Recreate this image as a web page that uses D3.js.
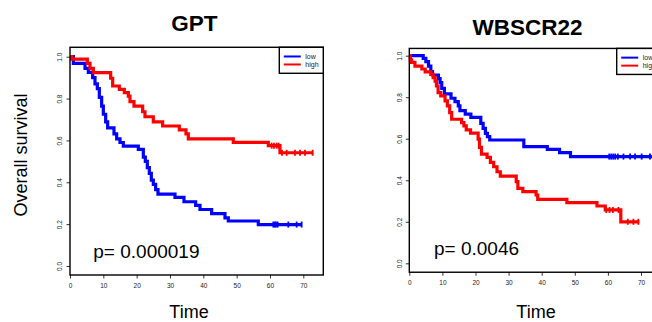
<!DOCTYPE html>
<html>
<head>
<meta charset="utf-8">
<script src="https://cdn.jsdelivr.net/npm/d3@7/dist/d3.min.js"></script>
<style>
  body { margin: 0; background: #fff; }
  text { font-family: "Liberation Sans", Arial, sans-serif; }
</style>
</head>
<body>
<div id="chart"></div>
<script>
// tick labels and groups
var xTicks = [0, 10, 20, 30, 40, 50, 60, 70];
var yTicks = [0, 0.2, 0.4, 0.6, 0.8, 1.0];
var groups = ["low", "high"];
var colors = ["#0000ff", "#ff0000"];

// GPT, low expression
var gptLowTime = [0, 1, 4.5, 5.5, 6.8, 7.5, 8.2, 8.8, 9.5, 10, 10.7, 11.3, 13.2, 14, 15, 16, 20.5, 22, 22.6, 23.2, 23.8, 24.4, 25, 25.7, 26.4, 31.5, 34.2, 37.7, 39, 42.5, 46.5, 47.5, 56.5];
var gptLowSurv = [1, 0.968, 0.944, 0.925, 0.9, 0.87, 0.847, 0.806, 0.764, 0.725, 0.689, 0.66, 0.631, 0.607, 0.59, 0.573, 0.557, 0.52, 0.5, 0.47, 0.443, 0.41, 0.39, 0.365, 0.343, 0.328, 0.307, 0.29, 0.27, 0.25, 0.23, 0.215, 0.198];
var gptLowEnd = 69.5;
var gptLowCensor = [61, 61.4, 61.8, 62.3, 65.5, 68, 69.5];

// GPT, high expression
var gptHighTime = [0, 0.5, 5.2, 6, 7, 12.2, 12.8, 14.8, 16.3, 17.5, 18, 19.2, 21.8, 22.5, 25, 27.8, 32.8, 34.8, 35.5, 49, 59.5, 63];
var gptHighSurv = [1, 0.988, 0.968, 0.944, 0.924, 0.897, 0.86, 0.844, 0.828, 0.812, 0.785, 0.764, 0.737, 0.713, 0.689, 0.669, 0.65, 0.631, 0.607, 0.591, 0.575, 0.541];
var gptHighEnd = 73;
var gptHighCensor = [60.5, 61.2, 62, 62.6, 63.6, 65, 67.5, 69, 70.5, 72.8];

// WBSCR22, low expression
var wbLowTime = [0, 4.2, 5, 5.8, 6.5, 7, 8.8, 9.3, 9.8, 10.6, 12.6, 13.8, 14.8, 15.3, 16.9, 18.6, 21.6, 22.3, 23, 23.6, 24.3, 34.6, 41.7, 45.4, 48.7];
var wbLowSurv = [1, 0.987, 0.971, 0.95, 0.923, 0.907, 0.89, 0.87, 0.843, 0.816, 0.795, 0.779, 0.758, 0.735, 0.719, 0.703, 0.674, 0.65, 0.626, 0.61, 0.594, 0.562, 0.549, 0.533, 0.514];
var wbLowEnd = 74;
var wbLowCensor = [60.4, 61, 61.6, 62.2, 63, 64.7, 66.7, 68.2, 70.2, 72.7];

// WBSCR22, high expression
var wbHighTime = [0, 0.3, 0.7, 1.7, 3.8, 4.8, 6.5, 7.2, 7.8, 8.2, 8.7, 9.5, 10.8, 11.5, 12.2, 12.8, 15.8, 16.5, 17.2, 18.5, 20.8, 21.2, 21.8, 23.5, 24.5, 25.5, 26.5, 27.5, 32.3, 32.8, 34.3, 38.3, 38.8, 47.6, 56.7, 59.2, 63.9];
var wbHighSurv = [1, 0.98, 0.968, 0.95, 0.936, 0.922, 0.91, 0.894, 0.878, 0.854, 0.822, 0.806, 0.782, 0.758, 0.726, 0.694, 0.678, 0.662, 0.643, 0.627, 0.598, 0.558, 0.526, 0.51, 0.486, 0.465, 0.441, 0.42, 0.393, 0.361, 0.345, 0.329, 0.308, 0.292, 0.276, 0.257, 0.2];
var wbHighEnd = 69.5;
var wbHighCensor = [59.5, 60.5, 61.5, 63.2, 66, 67.7, 69.2];

// panel layout
var panels = [
  { title: "GPT", pval: "p= 0.000019",
    xr: [70, 303.3], yr: [266, 56.7], xmax: 76, ymin: -0.043, ymax: 1.045,
    titleX: 194.5, titleY: 30.7, timeX: 189, legendX: 279.3, pX: 93.3, pY: 258.3,
    series: [[gptLowTime, gptLowSurv, gptLowEnd, gptLowCensor],
             [gptHighTime, gptHighSurv, gptHighEnd, gptHighCensor]] },
  { title: "WBSCR22", pval: "p= 0.0046",
    xr: [409.3, 641], yr: [263.3, 55.7], xmax: 76, ymin: -0.043, ymax: 1.035,
    titleX: 527.5, titleY: 35, timeX: 536, legendX: 616.7, pX: 434, pY: 255,
    series: [[wbLowTime, wbLowSurv, wbLowEnd, wbLowCensor],
             [wbHighTime, wbHighSurv, wbHighEnd, wbHighCensor]] }
];

var svg = d3.select("#chart")
  .append("svg")
    .attr("width", 652)
    .attr("height", 322);

// y axis label (shared, left)
svg.append("text")
  .attr("transform", "translate(26.7,155) rotate(-90)")
  .attr("text-anchor", "middle")
  .attr("font-size", "18px")
  .text("Overall survival");

panels.forEach(function(p) {
  var x = d3.scaleLinear().domain([0, 70]).range(p.xr);
  var y = d3.scaleLinear().domain([0, 1]).range(p.yr);
  var g = svg.append("g");

  var bx0 = x(0), bx1 = x(p.xmax), by0 = y(p.ymax), by1 = y(p.ymin);

  // x axis
  var xa = g.append("g")
    .attr("transform", "translate(0," + by1 + ")")
    .call(d3.axisBottom(x).tickValues(xTicks).tickSize(3.5).tickPadding(5)
      .tickFormat(d3.format("d")));
  // y axis
  var ya = g.append("g")
    .attr("transform", "translate(" + bx0 + ",0)")
    .call(d3.axisLeft(y).tickValues(yTicks).tickSize(3.5).tickFormat(d3.format(".1f")));
  [xa, ya].forEach(function(a) {
    a.select(".domain").remove();
    a.selectAll("line").attr("stroke", "#000").attr("stroke-width", 0.8);
    a.selectAll("text").attr("font-size", "6.5px").attr("fill", "#222")
      .attr("font-family", "'Liberation Sans', Arial, sans-serif");
  });
  ya.selectAll(".tick text")
    .attr("x", null).attr("dy", null)
    .attr("text-anchor", "middle")
    .attr("transform", "translate(-10,0) rotate(-90)")
    .attr("y", 2.3);

  // curves
  var line = d3.line()
    .x(function(d) { return x(d[0]); })
    .y(function(d) { return y(d[1]); })
    .curve(d3.curveStepAfter);

  p.series.forEach(function(s, i) {
    var pts = s[0].map(function(t, j) { return [t, s[1][j]]; });
    pts.push([s[2], s[1][s[1].length - 1]]);
    g.append("path")
      .datum(pts)
      .attr("fill", "none")
      .attr("stroke", colors[i])
      .attr("stroke-width", 3.2)
      .attr("d", line);

    // censor marks
    var survAt = function(t) {
      var v = s[1][0];
      for (var k = 0; k < s[0].length; k++) if (s[0][k] <= t) v = s[1][k];
      return v;
    };
    g.selectAll(null)
      .data(s[3])
      .enter().append("line")
        .attr("x1", function(d) { return x(d); })
        .attr("x2", function(d) { return x(d); })
        .attr("y1", function(d) { return y(survAt(d)) - 3; })
        .attr("y2", function(d) { return y(survAt(d)) + 3; })
        .attr("stroke", colors[i])
        .attr("stroke-width", 1.8);
  });

  // box
  g.append("rect")
    .attr("x", bx0).attr("y", by0)
    .attr("width", bx1 - bx0).attr("height", by1 - by0)
    .attr("fill", "none")
    .attr("stroke", "#000")
    .attr("stroke-width", 1.4);

  // legend
  var lg = g.append("g").attr("transform", "translate(" + p.legendX + "," + by0 + ")");
  lg.append("rect")
    .attr("width", bx1 - p.legendX).attr("height", 26)
    .attr("fill", "#fff").attr("stroke", "#000").attr("stroke-width", 1.4);
  groups.forEach(function(name, i) {
    lg.append("line")
      .attr("x1", 4.5).attr("x2", 21.5)
      .attr("y1", 9.2 + i * 8).attr("y2", 9.2 + i * 8)
      .attr("stroke", colors[i]).attr("stroke-width", 2);
    lg.append("text")
      .attr("x", 26).attr("y", 11.6 + i * 8)
      .attr("font-size", "7px").attr("fill", "#222")
      .text(name);
  });

  // title, x label, p value
  g.append("text")
    .attr("x", p.titleX).attr("y", p.titleY)
    .attr("text-anchor", "middle")
    .attr("font-size", "22.5px").attr("font-weight", "bold")
    .text(p.title);
  g.append("text")
    .attr("x", p.timeX).attr("y", 318)
    .attr("text-anchor", "middle")
    .attr("font-size", "18px")
    .text("Time");
  g.append("text")
    .attr("x", p.pX).attr("y", p.pY)
    .attr("font-size", "19px")
    .text(p.pval);
});
</script>
</body>
</html>
